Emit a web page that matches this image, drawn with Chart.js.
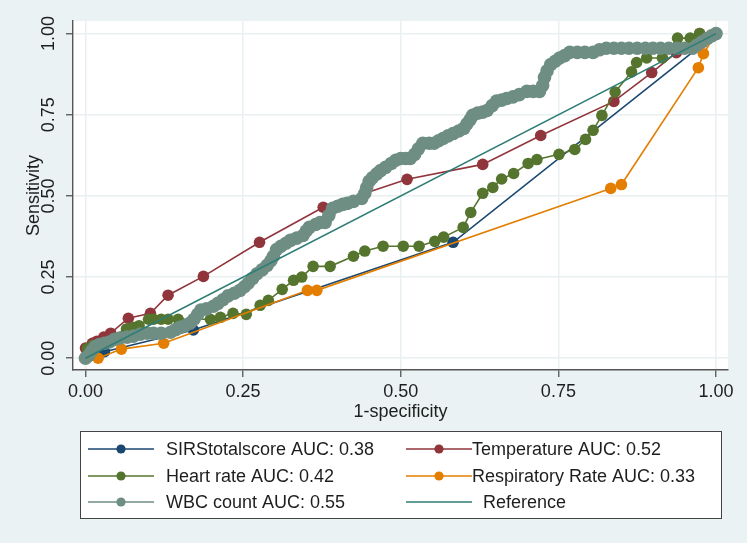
<!DOCTYPE html>
<html>
<head>
<meta charset="utf-8">
<script src="https://cdn.jsdelivr.net/npm/chart.js@4.4.1/dist/chart.umd.min.js"></script>
<style>
  body { margin: 0; background: #fff; }
  canvas { display: block; }
</style>
</head>
<body>
<canvas id="roc" width="750" height="547"></canvas>
<script>
// ROC curves, [1-specificity, sensitivity]
var sirPts = [[0, 0], [0.03, 0.02], [0.171, 0.087], [0.583, 0.357], [1, 1]];

var tempPts = [[0, 0], [0, 0.031], [0.011, 0.046], [0.018, 0.052], [0.029, 0.065], [0.04, 0.077],
  [0.068, 0.123], [0.103, 0.138], [0.131, 0.194], [0.187, 0.252], [0.276, 0.357], [0.377, 0.465],
  [0.51, 0.551], [0.63, 0.597], [0.722, 0.686], [0.838, 0.791], [0.898, 0.88], [0.937, 0.941],
  [0.974, 1], [1, 1]];

var hrPts = [[0, 0], [0.003, 0.03], [0.012, 0.04], [0.065, 0.09], [0.075, 0.095], [0.085, 0.1],
  [0.1, 0.12], [0.108, 0.12], [0.12, 0.12], [0.131, 0.12], [0.147, 0.12], [0.198, 0.12],
  [0.214, 0.126], [0.234, 0.138], [0.255, 0.135], [0.277, 0.163], [0.29, 0.178], [0.312, 0.212],
  [0.33, 0.24], [0.343, 0.25], [0.361, 0.283], [0.388, 0.283], [0.425, 0.314], [0.443, 0.33],
  [0.472, 0.345], [0.504, 0.345], [0.529, 0.345], [0.554, 0.36], [0.568, 0.373], [0.599, 0.403],
  [0.611, 0.449], [0.63, 0.508], [0.646, 0.526], [0.66, 0.552], [0.679, 0.569], [0.702, 0.6],
  [0.716, 0.612], [0.751, 0.628], [0.776, 0.643], [0.793, 0.674], [0.805, 0.702], [0.819, 0.748],
  [0.84, 0.82], [0.866, 0.882], [0.874, 0.911], [0.89, 0.925], [0.915, 0.925], [0.939, 0.986],
  [0.959, 0.986], [0.974, 1], [1, 1]];

var respPts = [[0, 0], [0.02, 0], [0.057, 0.028], [0.124, 0.046], [0.352, 0.209], [0.367, 0.209],
  [0.833, 0.523], [0.85, 0.535], [0.972, 0.895], [0.98, 0.938], [1, 1]];

var wbcPts = [[0, 0], [0.005, 0.008], [0.01, 0.023], [0.015, 0.035], [0.022, 0.042], [0.03, 0.046],
  [0.038, 0.05], [0.046, 0.058], [0.055, 0.062], [0.066, 0.065], [0.076, 0.068], [0.087, 0.074],
  [0.098, 0.077], [0.108, 0.077], [0.12, 0.077], [0.135, 0.08], [0.143, 0.088], [0.15, 0.095],
  [0.158, 0.1], [0.166, 0.108], [0.172, 0.12], [0.178, 0.135], [0.183, 0.148], [0.192, 0.152],
  [0.203, 0.16], [0.21, 0.169], [0.218, 0.18], [0.226, 0.192], [0.236, 0.2], [0.245, 0.209],
  [0.252, 0.22], [0.258, 0.231], [0.265, 0.246], [0.272, 0.26], [0.28, 0.272], [0.288, 0.286],
  [0.294, 0.3], [0.298, 0.314], [0.303, 0.335], [0.31, 0.345], [0.318, 0.354], [0.325, 0.363],
  [0.335, 0.37], [0.345, 0.378], [0.35, 0.392], [0.355, 0.403], [0.365, 0.412], [0.372, 0.418],
  [0.38, 0.418], [0.386, 0.44], [0.392, 0.462], [0.4, 0.468], [0.408, 0.474], [0.415, 0.477],
  [0.425, 0.483], [0.438, 0.492], [0.443, 0.508], [0.446, 0.526], [0.45, 0.545], [0.455, 0.556],
  [0.462, 0.568], [0.468, 0.578], [0.476, 0.588], [0.485, 0.6], [0.492, 0.61], [0.5, 0.615],
  [0.508, 0.615], [0.515, 0.615], [0.522, 0.628], [0.528, 0.645], [0.535, 0.662], [0.545, 0.662],
  [0.553, 0.662], [0.56, 0.67], [0.567, 0.677], [0.575, 0.685], [0.583, 0.692], [0.592, 0.7],
  [0.6, 0.708], [0.605, 0.722], [0.61, 0.735], [0.614, 0.748], [0.622, 0.755], [0.63, 0.758],
  [0.637, 0.763], [0.645, 0.778], [0.652, 0.792], [0.66, 0.795], [0.668, 0.8], [0.678, 0.805],
  [0.688, 0.812], [0.7, 0.822], [0.71, 0.822], [0.72, 0.822], [0.725, 0.84], [0.728, 0.865],
  [0.732, 0.885], [0.738, 0.905], [0.745, 0.915], [0.752, 0.925], [0.76, 0.932], [0.768, 0.942],
  [0.78, 0.942], [0.792, 0.942], [0.805, 0.942], [0.815, 0.95], [0.826, 0.955], [0.838, 0.955],
  [0.85, 0.955], [0.862, 0.955], [0.875, 0.955], [0.888, 0.955], [0.9, 0.955], [0.912, 0.955],
  [0.925, 0.955], [0.938, 0.955], [0.95, 0.955], [0.963, 0.955], [0.97, 0.965], [0.978, 0.975],
  [0.986, 0.985], [0.993, 0.993], [1, 1]];

var refPts = [[0, 0], [1, 1]];

var seriesLabels = ["SIRStotalscore AUC: 0.38", "Temperature AUC: 0.52", "Heart rate AUC: 0.42",
  "Respiratory Rate AUC: 0.33", "WBC count AUC: 0.55", "Reference"];
var xTicks = [0, 0.25, 0.5, 0.75, 1];
var yTicks = [0, 0.25, 0.5, 0.75, 1];

var FONT = '"Liberation Sans", Arial, sans-serif';
var textColor = "#1e1e1e";
var axisColor = "#555555";
var gridColor = "#e8f0f1";
var bgColor = "#eaf2f3";

function toXY(pts) {
	return pts.map(function(p) { return { x: p[0], y: p[1] }; });
}

function makeSet(label, pts, color, radius, order) {
	return {
		label: label,
		data: toXY(pts),
		showLine: true,
		borderColor: color,
		backgroundColor: color,
		pointBackgroundColor: color,
		pointBorderColor: color,
		pointBorderWidth: 0,
		pointRadius: radius,
		borderWidth: 1.6,
		order: order
	};
}

// 배경: 회색 그래프 영역 + 흰색 플롯 영역
var bgPlugin = {
	id: "stataBg",
	beforeDraw: function(chart) {
		var ctx = chart.ctx, a = chart.chartArea;
		ctx.save();
		ctx.fillStyle = "#ffffff";
		ctx.fillRect(0, 0, chart.width, chart.height);
		ctx.fillStyle = bgColor;
		ctx.fillRect(0, 0, 747, 543);
		ctx.fillStyle = "#ffffff";
		ctx.fillRect(a.left, a.top, a.right - a.left, a.bottom - a.top);
		ctx.restore();
	}
};

// 2열 범례 (Stata 스타일)
var legendPlugin = {
	id: "stataLegend",
	afterDraw: function(chart) {
		var ctx = chart.ctx;
		var rowY = [449, 476, 502];
		var keyX = [88, 406];
		var textX = [166, 472, 166, 472, 166, 483];
		ctx.save();
		ctx.fillStyle = "#ffffff";
		ctx.fillRect(80.5, 431.5, 641, 87);
		ctx.strokeStyle = "#444444";
		ctx.lineWidth = 1;
		ctx.strokeRect(80.5, 431.5, 641, 87);
		chart.data.datasets.forEach(function(ds, i) {
			var col = i % 2, y = rowY[Math.floor(i / 2)], x0 = keyX[col];
			ctx.strokeStyle = ds.borderColor;
			ctx.lineWidth = 1.6;
			ctx.beginPath();
			ctx.moveTo(x0, y);
			ctx.lineTo(x0 + 66, y);
			ctx.stroke();
			if (ds.pointRadius > 0) {
				ctx.fillStyle = ds.pointBackgroundColor;
				ctx.beginPath();
				ctx.arc(x0 + 33, y, 4.6, 0, Math.PI * 2);
				ctx.fill();
			}
			ctx.fillStyle = textColor;
			ctx.font = "18px " + FONT;
			ctx.textAlign = "left";
			ctx.textBaseline = "middle";
			ctx.fillText(ds.label, textX[i], y + 1);
		});
		ctx.restore();
	}
};

Chart.defaults.font.family = FONT;
Chart.defaults.font.size = 18;
Chart.defaults.color = textColor;

var ctx = document.getElementById("roc").getContext("2d");
window.rocChart = new Chart(ctx, {
	type: "scatter",
	data: {
		datasets: [
			makeSet(seriesLabels[0], sirPts, "#1a476f", 5.8, 5),
			makeSet(seriesLabels[1], tempPts, "#90353b", 5.8, 4),
			makeSet(seriesLabels[2], hrPts, "#55752f", 5.8, 3),
			makeSet(seriesLabels[3], respPts, "#e37e00", 5.8, 2),
			makeSet(seriesLabels[4], wbcPts, "#6e8e84", 6.8, 1),
			makeSet(seriesLabels[5], refPts, "#2e7d74", 0, 0)
		]
	},
	options: {
		responsive: false,
		animation: false,
		layout: { padding: { left: 0, right: 22, top: 21, bottom: 124 } },
		plugins: {
			legend: { display: false },
			tooltip: { enabled: false }
		},
		scales: {
			x: {
				type: "linear",
				min: -0.0198,
				max: 1.019,
				afterBuildTicks: function(s) { s.ticks = xTicks.map(function(v) { return { value: v }; }); },
				afterFit: function(s) { s.height = 53; },
				ticks: {
					padding: 4,
					maxRotation: 0,
					color: textColor,
					callback: function(v) { return Number(v).toFixed(2); }
				},
				grid: { color: gridColor, lineWidth: 1.5, tickLength: 7, tickColor: axisColor, tickWidth: 1.3 },
				border: { color: axisColor, width: 1.4 },
				title: { display: true, text: "1-specificity", color: textColor, padding: 0 }
			},
			y: {
				type: "linear",
				min: -0.0364,
				max: 1.0388,
				afterBuildTicks: function(s) { s.ticks = yTicks.map(function(v) { return { value: v }; }); },
				afterFit: function(s) { s.width = 73; },
				ticks: {
					padding: -1,
					minRotation: 90,
					maxRotation: 90,
					crossAlign: "center",
					color: textColor,
					callback: function(v) { return Number(v).toFixed(2); }
				},
				grid: { color: gridColor, lineWidth: 1.5, tickLength: 7, tickColor: axisColor, tickWidth: 1.3 },
				border: { color: axisColor, width: 1.4 },
				title: { display: true, text: "Sensitivity", color: textColor, padding: { top: 23, bottom: 0 } }
			}
		}
	},
	plugins: [bgPlugin, legendPlugin]
});
</script>
</body>
</html>
